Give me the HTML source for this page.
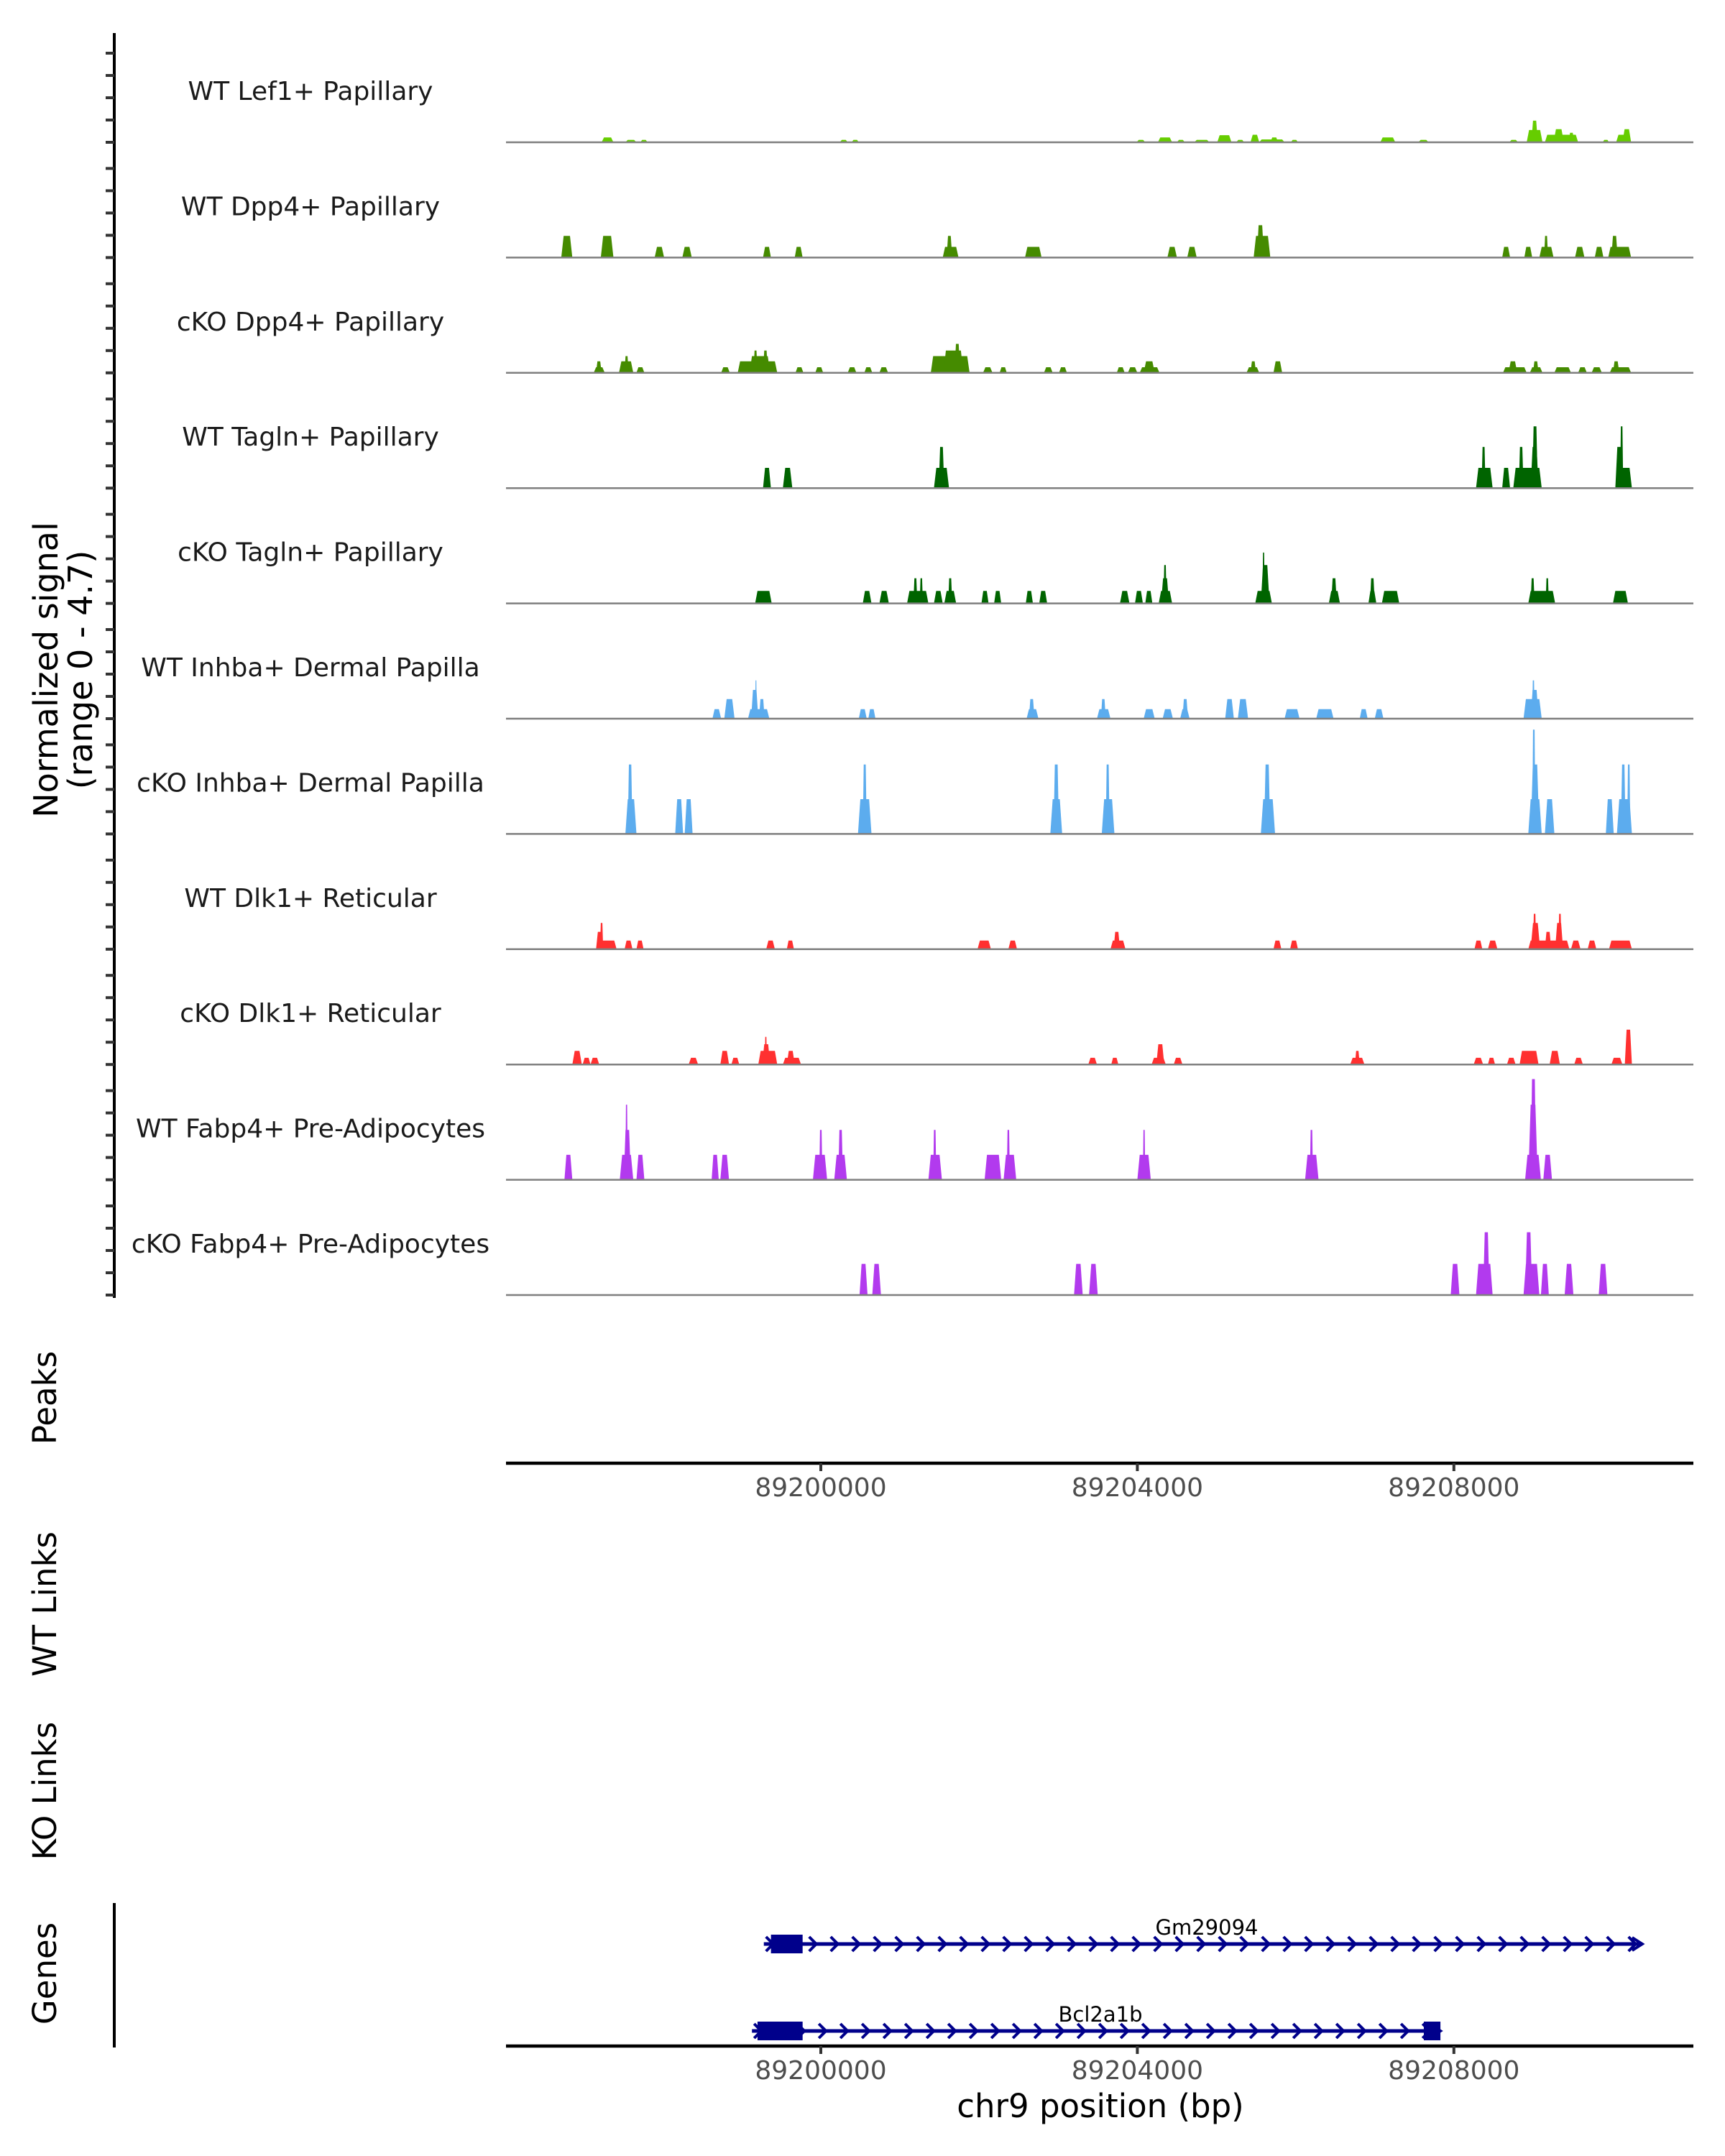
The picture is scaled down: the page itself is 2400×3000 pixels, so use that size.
<!DOCTYPE html>
<html><head><meta charset="utf-8"><title>Coverage plot chr9</title>
<style>
html,body{margin:0;padding:0;background:#fff;}
svg{display:block;font-family:"DejaVu Sans","Liberation Sans",sans-serif;}
</style></head>
<body>
<svg id="chart" xmlns="http://www.w3.org/2000/svg" width="2400" height="3000" viewBox="0 0 2400 3000"></svg>
<script>
// ---- data (genomic positions in kb, values in normalized signal) ----
const trackNames = ["WT Lef1+ Papillary","WT Dpp4+ Papillary","cKO Dpp4+ Papillary","WT Tagln+ Papillary","cKO Tagln+ Papillary","WT Inhba+ Dermal Papilla","cKO Inhba+ Dermal Papilla","WT Dlk1+ Reticular","cKO Dlk1+ Reticular","WT Fabp4+ Pre-Adipocytes","cKO Fabp4+ Pre-Adipocytes"];
const xTicks = [89200, 89204, 89208];
const xTickLabels = ["89200000","89204000","89208000"];
const yRangeMax = 4.7;

const wtLef1 = [[89197.23,89197.38,.22],[89197.53,89197.67,.11],[89197.72,89197.81,.11],[89200.24,89200.34,.11],[89200.39,89200.48,.11],[89203.99,89204.10,.11],[89204.26,89204.44,.22],[89204.50,89204.60,.11],[89204.72,89204.91,.11],[89205.01,89205.19,.32],[89205.25,89205.35,.11],[89205.43,89205.54,.34],[89205.54,89205.86,.13],[89205.68,89205.78,.22],[89205.94,89206.03,.11],[89207.07,89207.26,.22],[89207.55,89207.68,.11],[89208.70,89208.81,.11],[89208.92,89209.12,.55],[89208.98,89209.06,.97],[89209.15,89209.57,.34],[89209.26,89209.39,.59],[89209.45,89209.52,.43],[89209.88,89209.96,.11],[89210.05,89210.24,.34],[89210.13,89210.24,.59]];
const wtDpp4 = [[89196.72,89196.86,.97],[89197.22,89197.38,.97],[89197.90,89198.02,.48],[89198.25,89198.37,.48],[89199.27,89199.37,.48],[89199.67,89199.77,.48],[89201.54,89201.74,.48],[89201.59,89201.66,.97],[89202.58,89202.79,.48],[89204.38,89204.50,.48],[89204.63,89204.75,.48],[89205.47,89205.68,.97],[89205.51,89205.60,1.45],[89208.61,89208.71,.48],[89208.89,89208.99,.48],[89209.08,89209.26,.48],[89209.14,89209.19,.97],[89209.53,89209.65,.48],[89209.78,89209.89,.48],[89209.95,89210.24,.48],[89209.99,89210.07,.97]];
const ckoDpp4 = [[89197.13,89197.27,.25],[89197.16,89197.23,.52],[89197.45,89197.63,.52],[89197.52,89197.57,.75],[89197.67,89197.77,.25],[89198.74,89198.85,.25],[89198.95,89199.45,.52],[89199.10,89199.36,.75],[89199.15,89199.20,1.0],[89199.27,89199.33,1.0],[89199.68,89199.78,.25],[89199.93,89200.03,.25],[89200.34,89200.45,.25],[89200.55,89200.65,.25],[89200.74,89200.85,.25],[89201.39,89201.88,.75],[89201.55,89201.80,1.0],[89201.69,89201.76,1.3],[89202.05,89202.17,.25],[89202.26,89202.35,.25],[89202.82,89202.93,.25],[89203.01,89203.11,.25],[89203.74,89203.84,.25],[89203.88,89204.00,.25],[89204.03,89204.28,.25],[89204.08,89204.22,.52],[89205.38,89205.54,.25],[89205.43,89205.50,.52],[89205.72,89205.83,.52],[89208.62,89208.92,.25],[89208.69,89208.80,.52],[89208.96,89209.12,.25],[89209.00,89209.07,.52],[89209.27,89209.48,.25],[89209.57,89209.68,.25],[89209.74,89209.87,.25],[89209.97,89210.24,.25],[89210.01,89210.09,.52]];
const wtTagln = [[89199.27,89199.37,.91],[89199.52,89199.64,.91],[89201.43,89201.62,.91],[89201.49,89201.56,1.85],[89208.28,89208.49,.91],[89208.35,89208.40,1.85],[89208.61,89208.71,.91],[89208.75,89209.11,.91],[89208.82,89208.88,1.85],[89208.97,89209.07,1.85],[89208.99,89209.06,2.77],[89210.04,89210.25,.91],[89210.04,89210.14,1.85],[89210.10,89210.14,2.77]];
const ckoTagln = [[89199.17,89199.38,.56],[89200.53,89200.64,.56],[89200.74,89200.86,.56],[89201.09,89201.36,.56],[89201.17,89201.22,1.13],[89201.25,89201.29,1.13],[89201.43,89201.54,.56],[89201.56,89201.71,.56],[89201.61,89201.66,1.13],[89202.03,89202.12,.56],[89202.19,89202.28,.56],[89202.59,89202.68,.56],[89202.76,89202.86,.56],[89203.78,89203.90,.56],[89203.97,89204.07,.56],[89204.10,89204.19,.56],[89204.27,89204.44,.56],[89204.30,89204.40,1.13],[89204.33,89204.37,1.72],[89205.49,89205.70,.56],[89205.56,89205.67,1.72],[89205.58,89205.61,2.28],[89206.42,89206.56,.56],[89206.45,89206.52,1.13],[89206.92,89207.02,.56],[89206.94,89207.00,1.13],[89207.09,89207.31,.56],[89208.94,89209.28,.56],[89208.97,89209.02,1.13],[89209.16,89209.20,1.13],[89210.01,89210.20,.56]];
const wtInhba = [[89198.63,89198.74,.43],[89198.78,89198.91,.88],[89199.08,89199.35,.43],[89199.12,89199.21,1.29],[89199.17,89199.19,1.72],[89199.22,89199.29,.88],[89200.48,89200.58,.43],[89200.60,89200.69,.43],[89202.60,89202.75,.43],[89202.63,89202.70,.88],[89203.49,89203.66,.43],[89203.54,89203.60,.88],[89204.08,89204.22,.43],[89204.32,89204.45,.43],[89204.54,89204.66,.43],[89204.57,89204.64,.88],[89205.11,89205.22,.88],[89205.27,89205.40,.88],[89205.86,89206.05,.43],[89206.26,89206.48,.43],[89206.81,89206.91,.43],[89207.00,89207.11,.43],[89208.88,89209.11,.88],[89208.97,89209.07,1.29],[89208.99,89209.02,1.72]];
const ckoInhba = [[89197.53,89197.67,1.56],[89197.56,89197.62,3.12],[89198.16,89198.26,1.56],[89198.28,89198.38,1.56],[89200.47,89200.64,1.56],[89200.53,89200.58,3.12],[89202.90,89203.05,1.56],[89202.94,89203.01,3.12],[89203.55,89203.71,1.56],[89203.60,89203.65,3.12],[89205.56,89205.74,1.56],[89205.60,89205.68,3.12],[89208.94,89209.11,1.56],[89208.97,89209.08,3.12],[89208.99,89209.03,4.68],[89209.15,89209.27,1.56],[89209.92,89210.02,1.56],[89210.06,89210.25,1.56],[89210.11,89210.17,3.12],[89210.19,89210.23,3.12]];
const wtDlk1 = [[89197.16,89197.42,.39],[89197.16,89197.25,.78],[89197.21,89197.25,1.18],[89197.52,89197.62,.39],[89197.67,89197.76,.39],[89199.31,89199.42,.39],[89199.57,89199.66,.39],[89201.98,89202.15,.39],[89202.37,89202.48,.39],[89203.66,89203.85,.39],[89203.70,89203.78,.78],[89205.72,89205.82,.39],[89205.93,89206.03,.39],[89208.26,89208.36,.39],[89208.43,89208.55,.39],[89208.94,89209.46,.39],[89208.97,89209.09,1.18],[89209.00,89209.04,1.59],[89209.15,89209.23,.78],[89209.28,89209.38,1.18],[89209.32,89209.36,1.59],[89209.48,89209.60,.39],[89209.69,89209.80,.39],[89209.96,89210.25,.39]];
const ckoDlk1 = [[89196.86,89196.98,.61],[89196.99,89197.09,.30],[89197.09,89197.20,.30],[89198.33,89198.45,.30],[89198.73,89198.84,.61],[89198.87,89198.97,.30],[89199.21,89199.45,.61],[89199.26,89199.36,.91],[89199.29,89199.32,1.24],[89199.52,89199.75,.30],[89199.57,89199.67,.61],[89203.38,89203.49,.30],[89203.67,89203.76,.30],[89204.18,89204.36,.30],[89204.24,89204.34,.91],[89204.46,89204.57,.30],[89206.69,89206.87,.30],[89206.75,89206.81,.61],[89208.25,89208.37,.30],[89208.43,89208.52,.30],[89208.67,89208.78,.30],[89208.83,89209.07,.61],[89209.21,89209.34,.61],[89209.52,89209.63,.30],[89209.99,89210.13,.30],[89210.16,89210.25,1.56]];
const wtFabp4 = [[89196.76,89196.86,1.12],[89197.46,89197.63,1.12],[89197.51,89197.60,2.24],[89197.53,89197.56,3.37],[89197.67,89197.77,1.12],[89198.62,89198.71,1.12],[89198.73,89198.84,1.12],[89199.90,89200.08,1.12],[89199.98,89200.02,2.24],[89200.17,89200.33,1.12],[89200.22,89200.28,2.24],[89201.36,89201.53,1.12],[89201.42,89201.46,2.24],[89202.07,89202.28,1.12],[89202.31,89202.47,1.12],[89202.35,89202.39,2.24],[89204.00,89204.17,1.12],[89204.07,89204.10,2.24],[89206.12,89206.29,1.12],[89206.18,89206.22,2.24],[89208.90,89209.10,1.12],[89208.94,89209.06,3.37],[89208.97,89209.04,4.52],[89209.13,89209.24,1.12]];
const ckoFabp4 = [[89200.49,89200.59,1.40],[89200.65,89200.76,1.40],[89203.20,89203.31,1.40],[89203.39,89203.50,1.40],[89207.96,89208.07,1.40],[89208.28,89208.49,1.40],[89208.37,89208.45,2.82],[89208.88,89209.08,1.40],[89208.90,89208.99,2.82],[89209.10,89209.20,1.40],[89209.40,89209.51,1.40],[89209.83,89209.94,1.40]];

const geneNames = ["Gm29094","Bcl2a1b"];
const geneStarts = [89199.28, 89199.13];
const geneEnds = [89210.38, 89207.83];
const geneExons = [[[89199.37,89199.77]], [[89199.20,89199.77],[89207.62,89207.83]]];

// ---- layout / styles ----
const seriesList = [wtLef1,wtDpp4,ckoDpp4,wtTagln,ckoTagln,wtInhba,ckoInhba,wtDlk1,ckoDlk1,wtFabp4,ckoFabp4];
const trackColors = ["#66cd00","#458b00","#458b00","#006400","#006400","#5cacee","#5cacee","#ff3030","#ff3030","#b23aee","#b23aee"];
const plotLeft = 704, plotRight = 2356;
const firstBase = 198, trackStep = 160.4, trackPx = 145.7;
function xs(kb){ return 1142 + (kb - 89200) * 110.1; }
function ys(v, base){ return base - v / yRangeMax * trackPx; }

const NS = "http://www.w3.org/2000/svg";
const svg = document.getElementById("chart");
function mk(tag, attrs, parent){
  const e = document.createElementNS(NS, tag);
  for (const k in attrs) e.setAttribute(k, attrs[k]);
  (parent || svg).appendChild(e);
  return e;
}

// y axis line + ticks
const yAxis = mk("g", {});


const yLine = mk("line", {x1:159, y1:46, x2:159, y2:1806, stroke:"#000", "stroke-width":4}, yAxis);


for (let t = 0; t < trackNames.length; t++) {
  const base = firstBase + t * trackStep;
  for (let k = 0; k < 5; k++) {
    const tk = mk("line", {x1:147, x2:159, y1:base - k*31, y2:base - k*31, stroke:"#333", "stroke-width":4}, yAxis);
    
    
  }
}
const yTitle = mk("text", {transform:"translate(80,932) rotate(-90)", "text-anchor":"middle", "font-size":46, fill:"#000"});
yTitle.textContent = "Normalized signal";


const yTitle2 = mk("text", {transform:"translate(128,932) rotate(-90)", "text-anchor":"middle", "font-size":46, fill:"#000"});
yTitle2.textContent = "(range 0 - 4.7)";



// tracks
for (let t = 0; t < trackNames.length; t++) {
  const base = firstBase + t * trackStep;
  const g = mk("g", {});
  
  
  const lbl = mk("text", {x:432, y:base - 59, "text-anchor":"middle", "font-size":36, fill:"#1a1a1a"}, g);
  lbl.textContent = trackNames[t];
  
  
  const data = seriesList[t];
  for (let i = 0; i < data.length; i++) {
    const s = data[i][0], e = data[i][1], v = data[i][2];
    const ramp = Math.min((e - s) * 0.25, 0.03);
    const pts = [[xs(s), base],[xs(s+ramp), ys(v,base)],[xs(e-ramp), ys(v,base)],[xs(e), base]].map(p => p[0].toFixed(1)+","+p[1].toFixed(1)).join(" ");
    const poly = mk("polygon", {points:pts, fill:trackColors[t]}, g);
    
    
  }
  const bl = mk("line", {x1:plotLeft, x2:plotRight, y1:base, y2:base, stroke:"#7f7f7f", "stroke-width":2.5}, g);
  
  
}

// side labels
const sideLabels = [["Peaks",1945],["WT Links",2232],["KO Links",2492],["Genes",2746]];
for (const sl of sideLabels) {
  const tx = mk("text", {transform:"translate(78," + sl[1] + ") rotate(-90)", "text-anchor":"middle", "font-size":45, fill:"#000"});
  tx.textContent = sl[0];
  
  
}
const gAxis = mk("line", {x1:159, x2:159, y1:2648, y2:2849, stroke:"#000", "stroke-width":4});



// x axes (peaks + genes)
function xAxis(y, nm){
  const g = mk("g", {});
  
  
  const l = mk("line", {x1:plotLeft, x2:plotRight, y1:y, y2:y, stroke:"#000", "stroke-width":4.5}, g);
  
  
  for (let i = 0; i < xTicks.length; i++) {
    const tk = mk("line", {x1:xs(xTicks[i]), x2:xs(xTicks[i]), y1:y, y2:y+11, stroke:"#333", "stroke-width":4}, g);
    
    
    const tl = mk("text", {x:xs(xTicks[i]), y:y+46, "text-anchor":"middle", "font-size":36, fill:"#4d4d4d"}, g);
    tl.textContent = xTickLabels[i];
    
    
  }
}
xAxis(2036, 'peaks-x-axis');
xAxis(2847, 'genes-x-axis');
const xTitle = mk("text", {x:1531, y:2946, "text-anchor":"middle", "font-size":45, fill:"#000"});
xTitle.textContent = "chr9 position (bp)";



// genes
const geneY = [2705, 2826];
for (let gi = 0; gi < geneNames.length; gi++) {
  const y = geneY[gi];
  const g = mk("g", {});
  
  
  const x0 = xs(geneStarts[gi]), x1 = xs(geneEnds[gi]);
  const ln = mk("line", {x1:x0, x2:x1, y1:y, y2:y, stroke:"#00008b", "stroke-width":5}, g);
  
  
  let d = "";
  for (let cx = x0 + 8; cx <= x1; cx += 30) d += "M" + (cx-5) + "," + (y-10) + " L" + (cx+5) + "," + y + " L" + (cx-5) + "," + (y+10) + " ";
  d += "M" + (x1-14) + "," + (y-9) + " L" + x1 + "," + y + " L" + (x1-14) + "," + (y+9);
  const ch = mk("path", {d:d, stroke:"#00008b", "stroke-width":4, fill:"none"}, g);
  
  
  for (const ex of geneExons[gi]) {
    const r = mk("rect", {x:xs(ex[0]), y:y-13, width:xs(ex[1]) - xs(ex[0]), height:26, fill:"#00008b"}, g);
    
    
  }
  const lab = mk("text", {x:(gi === 0 ? 1679 : 1531), y:y - 13, "text-anchor":"middle", "font-size":29, fill:"#000"}, g);
  lab.textContent = geneNames[gi];
  
  
}
</script>
</body></html>
